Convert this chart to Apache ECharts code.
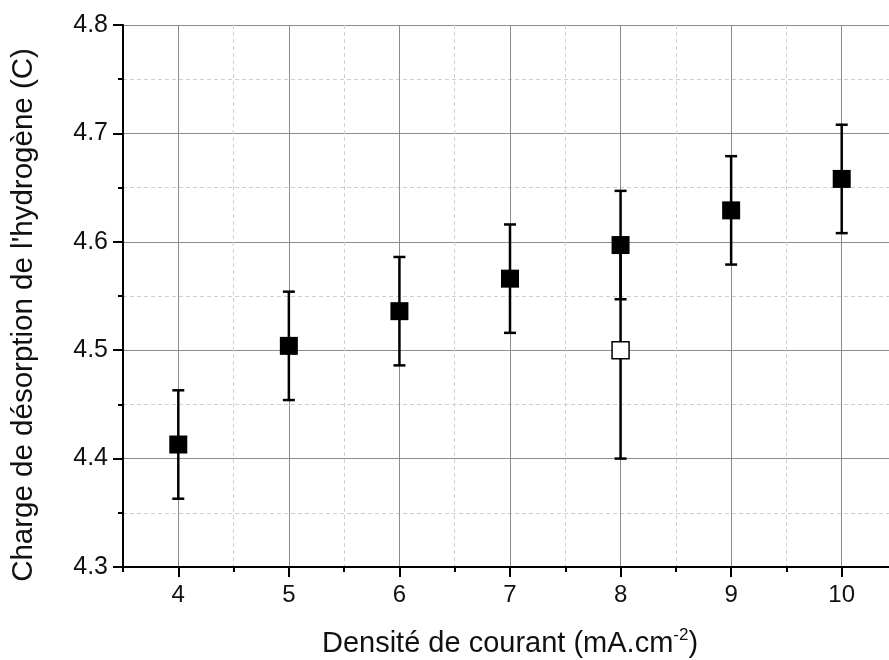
<!DOCTYPE html>
<html>
<head>
<meta charset="utf-8">
<script src="https://cdn.jsdelivr.net/npm/echarts@6/dist/echarts.min.js"></script>
<style>
  html, body { margin: 0; padding: 0; background: #fff; }
  #graf { width: 889px; height: 660px; }
</style>
</head>
<body>
<div id="graf"></div>
<script>
	// dados
	var densite = [4, 5, 6, 7, 8, 9, 10];
	var charge = [4.413, 4.504, 4.536, 4.566, 4.597, 4.629, 4.658];
	var erreur = [0.05, 0.05, 0.05, 0.05, 0.05, 0.05, 0.05];

	// ponto aberto (vazio)
	var densiteOuvert = [8];
	var chargeOuvert = [4.5];
	var erreurOuvert = [0.1];

	var xTicks = [4, 5, 6, 7, 8, 9, 10];

	var fonte = '"Liberation Sans", Arial, sans-serif';

	var pontos = densite.map(function(x, i){ return [x, charge[i], erreur[i]]; });
	var pontosOuvert = densiteOuvert.map(function(x, i){ return [x, chargeOuvert[i], erreurOuvert[i]]; });

	// barra de erro desenhada com custom series
	var barraErro = function(params, api){
		var x = api.value(0), y = api.value(1), e = api.value(2);
		var alto = api.coord([x, y + e]);
		var baixo = api.coord([x, y - e]);
		var w = 6;
		var estilo = { stroke: '#000', lineWidth: 2.5 };
		return {
			type: 'group',
			children: [
				{ type: 'line', shape: { x1: alto[0], y1: alto[1], x2: baixo[0], y2: baixo[1] }, style: estilo },
				{ type: 'line', shape: { x1: alto[0] - w, y1: alto[1], x2: alto[0] + w, y2: alto[1] }, style: estilo },
				{ type: 'line', shape: { x1: baixo[0] - w, y1: baixo[1], x2: baixo[0] + w, y2: baixo[1] }, style: estilo }
			]
		};
	};

	var myChart = echarts.init(document.getElementById('graf'));

	var option = {
		animation: false,
		backgroundColor: '#fff',
		grid: { left: 123, right: -8, top: 25, bottom: 93, outerBoundsMode: 'none', containLabel: false },
		xAxis: [
			{
				type: 'value',
				min: 3.5,
				max: 10.5,
				interval: 0.5,
				name: 'Densité de courant (mA.cm{sup|-2})',
				nameLocation: 'middle',
				nameGap: 60,
				nameTextStyle: {
					fontFamily: fonte, fontSize: 29, color: '#111',
					rich: { sup: { fontFamily: fonte, fontSize: 17, color: '#111', padding: [0, 0, 16, 0] } }
				},
				axisLine: { show: true, onZero: false, lineStyle: { color: '#000', width: 2 } },
				axisTick: { show: true, customValues: xTicks, length: 10, lineStyle: { color: '#000', width: 2 } },
				axisLabel: { customValues: xTicks, margin: 16, fontFamily: fonte, fontSize: 24, color: '#111' },
				splitLine: { show: true, lineStyle: { color: '#8c8c8c', width: 1 } }
			},
			{
				type: 'value',
				min: 3.5,
				max: 10.5,
				interval: 1,
				position: 'bottom',
				axisLine: { show: false },
				axisTick: { show: true, length: 5, lineStyle: { color: '#000', width: 2 } },
				axisLabel: { show: false },
				splitLine: { show: true, lineStyle: { color: '#cfcfcf', width: 1, type: [4, 3] } }
			}
		],
		yAxis: {
			type: 'value',
			min: 4.3,
			max: 4.8,
			interval: 0.1,
			name: "Charge de désorption de l'hydrogène (C)",
			nameLocation: 'middle',
			nameGap: 84,
			nameTextStyle: { fontFamily: fonte, fontSize: 29.5, color: '#111', padding: [0, 38, 0, 0] },
			axisLine: { show: true, lineStyle: { color: '#000', width: 2 } },
			axisTick: { show: true, length: 10, lineStyle: { color: '#000', width: 2 } },
			minorTick: { show: true, splitNumber: 2, length: 5, lineStyle: { color: '#000', width: 2 } },
			axisLabel: {
				margin: 15, fontFamily: fonte, fontSize: 25, color: '#111',
				formatter: function(v){ return v.toFixed(1); }
			},
			splitLine: { show: true, lineStyle: { color: '#8c8c8c', width: 1 } },
			minorSplitLine: { show: true, lineStyle: { color: '#cfcfcf', width: 1, type: [4, 3] } }
		},
		series: [
			{
				type: 'custom',
				renderItem: barraErro,
				data: pontosOuvert,
				encode: { x: 0, y: 1 },
				z: 2
			},
			{
				type: 'custom',
				renderItem: barraErro,
				data: pontos,
				encode: { x: 0, y: 1 },
				z: 2
			},
			{
				type: 'scatter',
				symbol: 'rect',
				symbolSize: 18,
				data: pontos,
				itemStyle: { color: '#000', opacity: 1 },
				z: 3
			},
			{
				type: 'scatter',
				symbol: 'rect',
				symbolSize: 17,
				data: pontosOuvert,
				itemStyle: { color: '#fff', borderColor: '#000', borderWidth: 1.5, opacity: 1 },
				z: 4
			}
		]
	};
	// aplico as alterações de layout no chart
	myChart.setOption(option);
</script>
</body>
</html>
